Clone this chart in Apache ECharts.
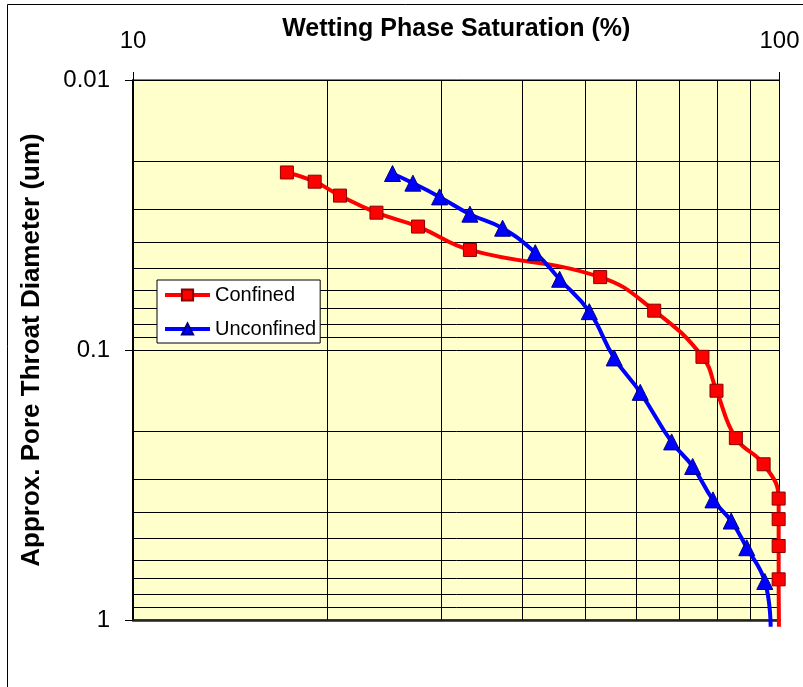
<!DOCTYPE html>
<html>
<head>
<meta charset="utf-8">
<script src="https://cdn.jsdelivr.net/npm/echarts@6/dist/echarts.min.js"></script>
<style>
html,body{margin:0;padding:0;background:#fff;}
#chart{width:803px;height:687px;}
</style>
</head>
<body>
<div id="chart"></div>
<script>
// ---- data ----
const xTickLabels = [10, 100];
const yTickLabels = [0.01, 0.1, 1];
const xGridValues = [20, 30, 40, 50, 60, 70, 80, 90];
const yGridValues = [0.02, 0.03, 0.04, 0.05, 0.06, 0.07, 0.08, 0.09, 0.2, 0.3, 0.4, 0.5, 0.6, 0.7, 0.8, 0.9];

const confinedSat = [17.3, 19.1, 20.9, 23.8, 27.6, 33.2, 52.8, 64.0, 76.0, 79.9, 85.6, 94.5, 99.7, 99.7, 99.7, 99.7, 99.8];
const confinedDia = [0.0220, 0.0238, 0.0268, 0.0310, 0.0349, 0.0426, 0.0537, 0.0715, 0.106, 0.1415, 0.212, 0.265, 0.355, 0.423, 0.532, 0.707, 1.06];

const unconfinedSat = [25.2, 27.1, 29.8, 33.2, 37.3, 41.9, 45.7, 50.8, 55.5, 60.9, 68.1, 73.4, 78.9, 84.2, 89.0, 94.9, 96.9];
const unconfinedDia = [0.0222, 0.0241, 0.0271, 0.0314, 0.0354, 0.0436, 0.0547, 0.0721, 0.107, 0.1435, 0.219, 0.270, 0.359, 0.430, 0.540, 0.720, 1.06];

const FONT = '"Liberation Sans", Arial, Helvetica, sans-serif';

function pairs(xs, ys) {
  return xs.map(function (x, i) {
    const item = { value: [x, ys[i]] };
    if (i === xs.length - 1) item.symbol = 'none'; // tail beyond the axis end, no marker
    return item;
  });
}
function nearestLabel(list, v) {
  let best = list[0];
  list.forEach(function (l) { if (Math.abs(Math.log10(l) - Math.log10(v)) < Math.abs(Math.log10(best) - Math.log10(v))) best = l; });
  return String(best);
}

const chart = echarts.init(document.getElementById('chart'), null, { renderer: 'canvas' });
chart.setOption({
  backgroundColor: '#ffffff',
  animation: false,
  graphic: [{
    type: 'rect', silent: true, z: 100,
    shape: { x: 7.5, y: 4.5, width: 900, height: 900 },
    style: { fill: 'none', stroke: '#000', lineWidth: 1 }
  }],
  grid: {
    left: 133, right: 23.5, top: 80, bottom: 67,
    containLabel: false, outerBoundsMode: 'none',
    show: true, backgroundColor: '#FFFFCC', borderColor: '#000', borderWidth: 1
  },
  legend: {
    orient: 'vertical',
    left: 157, top: 280,
    data: ['Confined', 'Unconfined'],
    backgroundColor: '#ffffff',
    borderColor: '#000', borderWidth: 1,
    padding: [5, 4, 4, 6],
    itemGap: 14,
    itemWidth: 45, itemHeight: 14,
    lineStyle: { width: 4 },
    textStyle: { fontFamily: FONT, fontSize: 20, color: '#000' }
  },
  xAxis: [{
    type: 'log', logBase: 10, min: 10, max: 100,
    position: 'top',
    name: 'Wetting Phase Saturation (%)',
    nameLocation: 'middle', nameGap: 38, nameMoveOverlap: false,
    nameTextStyle: { fontFamily: FONT, fontSize: 25, fontWeight: 'bold', color: '#000' },
    axisLine: { show: true, lineStyle: { color: '#000', width: 1 } },
    axisTick: { show: true, inside: false, length: 8, lineStyle: { color: '#000' } },
    axisLabel: {
      fontFamily: FONT, fontSize: 24, color: '#000', margin: 27,
      formatter: function (v) { return nearestLabel(xTickLabels, v); }
    },
    splitLine: { show: true, lineStyle: { color: '#000', width: 1 } },
    minorTick: { show: false }, minorSplitLine: { show: false }
  }, {
    type: 'log', logBase: 10, min: 10, max: 100,
    position: 'bottom',
    axisLine: { show: true, lineStyle: { color: '#222', width: 2.5 } },
    axisTick: { show: false }, axisLabel: { show: false }, splitLine: { show: false }
  }],
  yAxis: {
    type: 'log', logBase: 10, min: 0.01, max: 1,
    inverse: true,
    name: 'Approx. Pore Throat Diameter (um)',
    nameLocation: 'middle', nameGap: 88, nameMoveOverlap: false,
    nameTextStyle: { fontFamily: FONT, fontSize: 26, fontWeight: 'bold', color: '#000' },
    axisLine: { show: true, lineStyle: { color: '#000', width: 2 } },
    axisTick: { show: true, inside: false, length: 8, lineStyle: { color: '#000' } },
    axisLabel: {
      fontFamily: FONT, fontSize: 24, color: '#000', margin: 23,
      formatter: function (v) { return nearestLabel(yTickLabels, v); }
    },
    splitLine: { show: true, lineStyle: { color: '#000', width: 1 } },
    minorTick: { show: false }, minorSplitLine: { show: false }
  },
  series: [{
    name: 'gridlines', type: 'line', data: [], silent: true, z: 1,
    markLine: {
      silent: true, symbol: ['none', 'none'], z: 1,
      label: { show: false },
      lineStyle: { color: '#000', width: 1, type: 'solid' },
      emphasis: { disabled: true },
      data: xGridValues.map(function (v) { return { xAxis: v }; })
        .concat(yGridValues.map(function (v) { return { yAxis: v }; }))
    }
  }, {
    name: 'Confined', type: 'line', z: 3, clip: false,
    smooth: 0.45,
    data: pairs(confinedSat, confinedDia),
    symbol: 'rect', symbolSize: 13, showAllSymbol: true,
    lineStyle: { color: '#FF0000', width: 4 },
    itemStyle: { color: '#FF0000', borderColor: '#8B0000', borderWidth: 1 }
  }, {
    name: 'Unconfined', type: 'line', z: 4, clip: false,
    smooth: 0.45,
    data: pairs(unconfinedSat, unconfinedDia),
    symbol: 'triangle', symbolSize: 16, showAllSymbol: true,
    lineStyle: { color: '#0000FF', width: 4 },
    itemStyle: { color: '#0000FF', borderColor: '#000080', borderWidth: 1 }
  }]
});
</script>
</body>
</html>
